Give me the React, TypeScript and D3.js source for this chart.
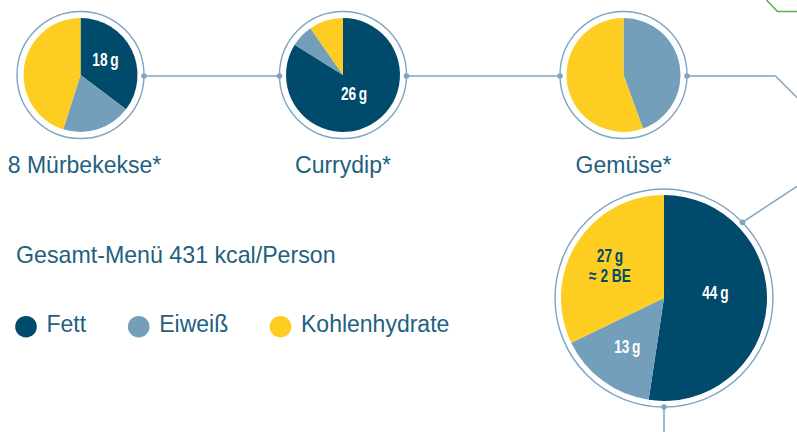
import React from "react";
import * as d3 from "d3";

// --- data ---
const nutrients = ["Fett", "Eiweiß", "Kohlenhydrate"];
const nutrientColors = ["#004a6b", "#739fbb", "#fecd21"];
const foods = ["8 Mürbekekse*", "Currydip*", "Gemüse*"];
const muerbekekse = [18, 10, 23];
const currydip = [26, 2, 3];
const gemuese = [0, 1.2, 1.5];
const gesamt = [44, 13, 27];
const muerbekekseLabels = ["18\u2009g", "", ""];
const currydipLabels = ["26\u2009g", "", ""];
const gemueseLabels = ["", "", ""];
const gesamtLabels = ["44\u2009g", "13\u2009g", "27\u2009g|≈ 2 BE"];
const title = "Gesamt-Menü 431 kcal/Person";

const textColor = "#235f80";
const ringColor = "#7ea5c1";
const fontMain = "'Liberation Sans', Arial, Helvetica, sans-serif";

// layout of the pies (positions only)
const small = [
  { values: muerbekekse, labels: muerbekekseLabels, cx: 80.5, k: [0.49, 0, 0], dy: [-2.7, 0, 0] },
  { values: currydip, labels: currydipLabels, cx: 343, k: [0.4, 0, 0], dy: [-1.5, 0, 0] },
  { values: gemuese, labels: gemueseLabels, cx: 623.5, k: [0, 0, 0], dy: [0, 0, 0] },
];
const smallCy = 75;
const smallR = 57;
const smallRing = 63.5;
const big = { values: gesamt, labels: gesamtLabels, cx: 664, cy: 298, r: 103, ring: 109, k: [0.5, 0.6, 0.62], dy: [-9, -0.5, 2.2] };

const pie = d3.pie<number>().sort(null).value((d) => d);

function Pie(props: { values: number[]; labels: string[]; cx: number; cy: number; r: number; ring: number; k: number[]; dy: number[]; fs: number; ringDots: [number, number][] }) {
  const { values, labels, cx, cy, r, ring, k, dy, fs, ringDots } = props;
  const arcs = pie(values);
  const arc = d3.arc<d3.PieArcDatum<number>>().innerRadius(0).outerRadius(r);
  return (
    <g transform={`translate(${cx},${cy})`}>
      <circle r={ring} fill="#fff" stroke={ringColor} strokeWidth={1.4} />
      {arcs.map((a, i) => (
        <path key={i} d={arc(a) || ""} fill={nutrientColors[i]} />
      ))}
      {arcs.map((a, i) => {
        if (!labels[i]) return null;
        const la = d3.arc<d3.PieArcDatum<number>>().innerRadius(r * k[i]).outerRadius(r * k[i]);
        const [x, y] = la.centroid(a);
        const lines = labels[i].split("|");
        const lh = 20;
        const y0 = y + dy[i] - ((lines.length - 1) * lh) / 2 + 6.2;
        return (
          <g key={"t" + i} transform={`translate(${x},${y0})`}>
            <text transform="scale(0.76,1)" textAnchor="middle" fontFamily={fontMain} fontWeight="bold" fontSize={fs}
              fill={i === 2 ? nutrientColors[0] : "#fff"}>
              {lines.map((l, j) => (
                <tspan key={j} x={0} dy={j === 0 ? 0 : lh}>{l}</tspan>
              ))}
            </text>
          </g>
        );
      })}
      {ringDots.map(([dx, ddy], i) => (
        <circle key={"d" + i} cx={dx} cy={ddy} r={2.8} fill={ringColor} />
      ))}
    </g>
  );
}

export default function App() {
  const W = 797;
  const H = 432;
  const bigDotAngle = (-44 * Math.PI) / 180;
  const bdx = big.ring * Math.cos(bigDotAngle);
  const bdy = big.ring * Math.sin(bigDotAngle);
  const legendX = [26, 138.7, 280.5];
  return (
    <div style={{ position: "fixed", left: 0, top: 0 }}>
      <svg width={W} height={H} style={{ display: "block" }}>
        <rect width={W} height={H} fill="#fff" />
        {/* green line top right */}
        <polyline points="766.5,0 777.5,11.5 797,11.5" fill="none" stroke="#5aae4e" strokeWidth={1.5} />
        {/* connectors */}
        <g stroke={ringColor} strokeWidth={1.5} fill="none">
          <line x1={small[0].cx + smallRing} y1={smallCy + 1} x2={small[1].cx - smallRing} y2={smallCy + 1} />
          <line x1={small[1].cx + smallRing} y1={smallCy + 1} x2={small[2].cx - smallRing} y2={smallCy + 1} />
          <polyline points={`${small[2].cx + smallRing},${smallCy + 1} 775.5,${smallCy + 1} 800,${smallCy + 25.5}`} />
          <line x1={big.cx + bdx} y1={big.cy + bdy} x2={800} y2={184.5} />
          <line x1={big.cx} y1={big.cy + big.ring} x2={big.cx} y2={H} />
        </g>
        {small.map((p, i) => (
          <g key={i}>
            <Pie values={p.values} labels={p.labels} cx={p.cx} cy={smallCy} r={smallR} ring={smallRing} k={p.k} dy={p.dy} fs={18}
              ringDots={i === 0 ? [[smallRing, 1]] : [[-smallRing, 1], [smallRing, 1]]} />
            <text x={p.cx + (i === 0 ? 4 : 0)} y={173} textAnchor="middle" fontFamily={fontMain} fontSize={23} fill={textColor}>{foods[i]}</text>
          </g>
        ))}
        <Pie values={big.values} labels={big.labels} cx={big.cx} cy={big.cy} r={big.r} ring={big.ring} k={big.k} dy={big.dy} fs={18}
          ringDots={[[bdx, bdy], [0, big.ring]]} />
        <text x={16} y={263} fontFamily={fontMain} fontSize={23.2} fill={textColor}>{title}</text>
        {nutrients.map((n, i) => (
          <g key={n}>
            <circle cx={legendX[i]} cy={326.7} r={10.8} fill={nutrientColors[i]} />
            <text x={legendX[i] + 20.5} y={332} fontFamily={fontMain} fontSize={23} fill={textColor}>{n}</text>
          </g>
        ))}
      </svg>
    </div>
  );
}
